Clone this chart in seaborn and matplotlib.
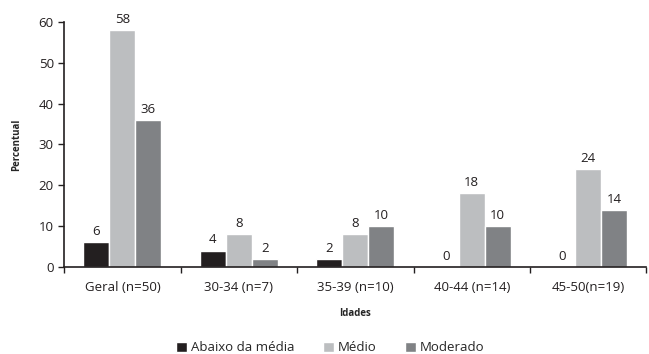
import matplotlib
matplotlib.use("Agg")
import matplotlib.pyplot as plt
import numpy as np
import pandas as pd
import seaborn as sns

# Data
grupos = ["Geral (n=50)", "30-34 (n=7)", "35-39 (n=10)", "40-44 (n=14)", "45-50(n=19)"]
series = ["Abaixo da média", "Médio", "Moderado"]
abaixo = [6, 4, 2, 0, 0]
medio = [58, 8, 8, 18, 24]
moderado = [36, 2, 10, 10, 14]

df = pd.DataFrame({
    "Idades": grupos * 3,
    "Classe": [series[0]] * 5 + [series[1]] * 5 + [series[2]] * 5,
    "Percentual": abaixo + medio + moderado,
})

sns.set_style("white")
plt.rcParams["font.family"] = ["Open Sans", "DejaVu Sans"]

cores = ["#231f20", "#bcbec0", "#808285"]

fig = plt.figure(figsize=(6.49, 3.54), dpi=100)
ax = fig.add_axes([0.099, 0.246, 0.897, 0.692])

sns.barplot(data=df, x="Idades", y="Percentual", hue="Classe", palette=cores,
            width=0.67, saturation=1, ax=ax, legend=True)

# value labels
for cont in ax.containers:
    ax.bar_label(cont, fmt="%d", padding=3, fontsize=9.5, color="#231f20")

ax.set_ylim(0, 60)
ax.set_xlim(-0.5, 4.5)
ax.set_yticks(range(0, 61, 10))
ax.tick_params(axis="y", direction="out", length=4, width=1, labelsize=9.5,
               colors="#231f20", left=True)
ax.tick_params(axis="x", which="major", length=0, labelsize=9.5, pad=10,
               colors="#231f20")
ax.set_xticks(np.arange(-0.5, 5, 1), minor=True)
ax.tick_params(axis="x", which="minor", direction="out", length=4, width=1,
               bottom=True, color="#231f20")

for s in ["top", "right"]:
    ax.spines[s].set_visible(False)
for s in ["left", "bottom"]:
    ax.spines[s].set_color("#231f20")
    ax.spines[s].set_linewidth(1.2)

ax.set_ylabel("Percentual", fontsize=7, fontweight="bold", labelpad=12)
ax.set_xlabel("Idades", fontsize=7, fontweight="bold", labelpad=10)

ax.legend(loc="center", bbox_to_anchor=(0.457, -0.33), ncol=3, frameon=False,
          fontsize=9.5, handlelength=0.8, handleheight=0.8, handletextpad=0.3,
          columnspacing=2.2, borderpad=0)

fig.savefig("out.png", dpi=100)
